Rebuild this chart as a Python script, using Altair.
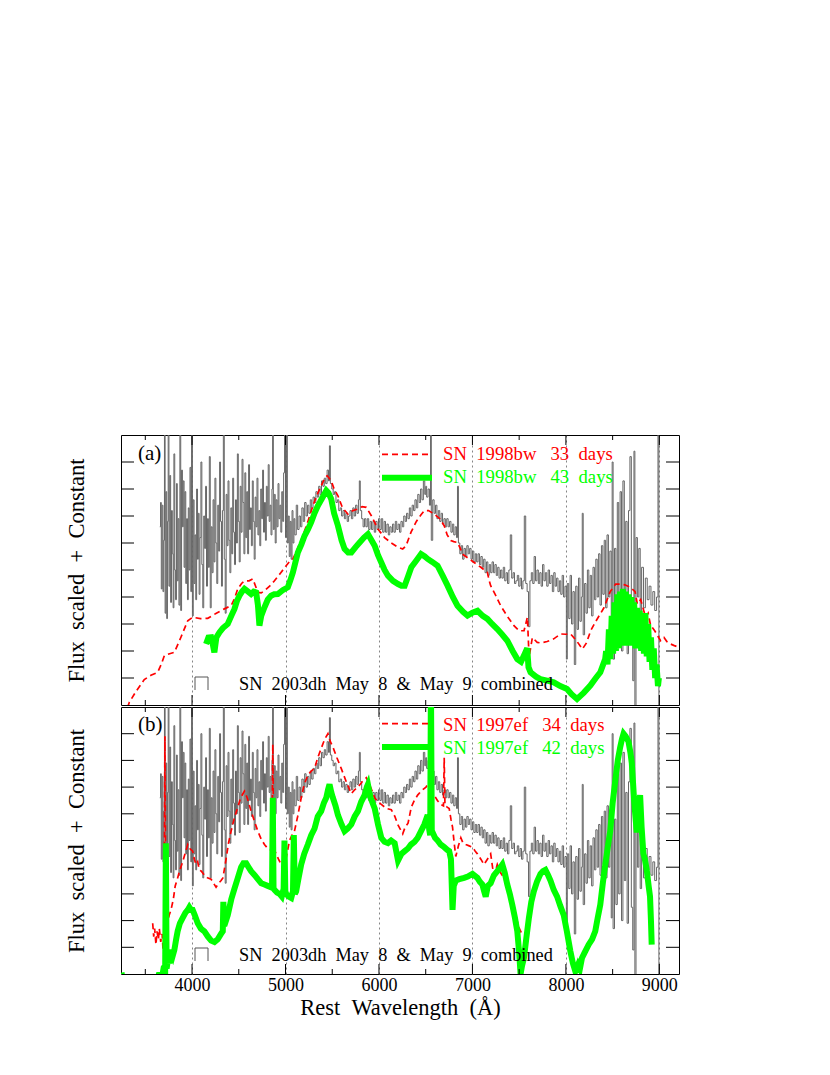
import altair as alt
import pandas as pd

FONT = "Liberation Serif"
XMIN, XMAX = 3240, 9210

# SN 2003dh (May 8 & 9 combined), same spectrum shown in both panels: (wavelength, flux)
gray = [
(3655,6.6),(3663,7.5),(3671,4.3),(3680,7.4),(3689,4.2),(3697,6.1),(3705,10.6),(3712,3.4),(3720,7.9),(3729,3.2),
(3737,6.8),(3745,10.6),(3753,4.4),(3762,8.5),(3771,3.8),(3780,7.2),(3789,5.6),(3798,3.6),(3806,9.3),(3815,5.0),
(3824,3.9),(3833,8.2),(3842,4.6),(3851,6.9),(3860,3.7),(3870,10.6),(3879,3.5),(3888,8.7),(3897,6.6),(3906,8.3),
(3915,5.1),(3924,7.9),(3933,4.5),(3942,6.9),(3951,3.9),(3960,7.3),(3969,5.0),(3978,8.8),(3987,4.2),(3995,10.6),
(4004,3.3),(4013,7.6),(4022,4.5),(4031,6.3),(4040,3.9),(4049,8.0),(4058,5.4),(4067,7.1),(4076,4.1),(4085,6.2),
(4095,9.0),(4105,5.2),(4115,3.6),(4125,7.0),(4135,5.8),(4145,8.1),(4155,4.4),(4165,6.9),(4175,5.1),(4185,9.2),
(4195,3.6),(4205,6.6),(4215,4.9),(4225,7.6),(4235,5.3),(4245,8.4),(4255,6.0),(4265,4.5),(4275,7.4),(4285,5.7),
(4295,9.0),(4305,6.8),(4315,4.4),(4325,7.2),(4335,10.6),(4345,5.4),(4355,3.4),(4365,7.8),(4375,5.9),(4385,8.3),
(4395,6.1),(4405,4.9),(4415,7.3),(4425,5.6),(4435,8.4),(4445,6.4),(4455,5.2),(4465,7.6),(4475,6.0),(4485,9.3),
(4495,6.8),(4505,5.3),(4515,8.1),(4525,6.4),(4535,9.1),(4545,7.5),(4555,5.6),(4565,8.6),(4575,6.2),(4585,7.9),
(4595,5.6),(4605,8.9),(4615,6.5),(4625,7.3),(4635,5.9),(4645,8.3),(4655,6.8),(4665,5.4),(4675,7.7),(4685,6.6),
(4695,8.4),(4705,6.3),(4715,7.2),(4725,5.9),(4735,8.0),(4745,6.9),(4755,8.7),(4765,6.4),(4775,7.5),(4785,6.1),
(4795,8.1),(4805,7.0),(4815,8.9),(4825,6.8),(4835,7.4),(4845,6.3),(4855,8.0),(4862,10.6),(4870,6.5),(4880,7.8),
(4890,6.0),(4900,7.6),(4910,6.6),(4920,8.2),(4930,6.9),(4940,7.4),(4950,6.4),(4960,7.9),(4970,6.8),(4980,8.6),
(4990,10.6),(5000,6.2),(5010,10.6),(5020,6.0),(5030,7.0),(5040,5.5),(5050,6.8),(5060,5.4),(5070,7.2),(5080,6.0),
(5090,6.9),(5100,6.3),(5115,7.4),(5130,6.5),(5145,7.0),(5160,6.6),(5175,7.3),(5190,6.8),(5205,7.5),(5220,7.0),
(5235,7.4),(5250,7.1),(5265,7.6),(5280,7.3),(5295,7.7),(5310,7.5),(5325,7.9),(5340,7.7),(5355,8.1),(5370,7.8),
(5385,8.3),(5400,8.1),(5415,8.4),(5430,8.2),(5445,8.7),(5460,8.3),(5470,9.6),(5480,8.2),(5495,8.0),(5510,7.8),
(5525,7.9),(5540,7.5),(5555,7.6),(5570,7.2),(5585,7.3),(5600,7.0),(5615,7.2),(5630,6.9),(5645,7.1),(5660,6.8),
(5675,7.0),(5690,7.2),(5705,6.9),(5720,7.3),(5735,7.0),(5750,7.4),(5765,7.1),(5780,7.6),(5790,8.3),(5800,7.2),
(5815,6.9),(5830,6.6),(5845,6.9),(5860,6.6),(5875,6.9),(5890,6.5),(5905,6.8),(5920,6.5),(5935,6.8),(5950,6.4),
(5965,6.8),(5980,6.5),(5995,6.9),(6010,6.5),(6025,6.9),(6040,6.4),(6055,6.8),(6070,6.4),(6085,6.7),(6100,6.3),
(6115,6.6),(6130,6.4),(6145,6.7),(6160,6.4),(6175,6.8),(6190,6.5),(6205,6.7),(6220,6.4),(6235,6.8),(6250,6.6),
(6265,7.0),(6280,6.8),(6295,7.1),(6310,6.9),(6325,7.3),(6340,7.0),(6355,7.4),(6370,7.2),(6385,7.6),(6400,7.3),
(6415,7.8),(6430,7.5),(6445,8.0),(6460,7.6),(6475,8.3),(6490,7.8),(6500,8.1),(6510,7.7),(6525,8.0),(6540,7.4),
(6552,10.6),(6560,6.1),(6575,7.6),(6590,7.1),(6605,7.4),(6620,6.9),(6635,7.2),(6650,6.8),(6665,7.1),(6680,6.7),
(6695,6.9),(6710,6.6),(6725,6.9),(6740,6.6),(6755,6.8),(6770,6.4),(6785,6.7),(6800,6.3),(6815,6.6),(6830,6.2),
(6840,8.1),(6850,6.0),(6865,5.6),(6880,5.9),(6895,5.4),(6910,5.8),(6925,5.5),(6940,5.9),(6955,5.6),(6970,5.8),
(6985,5.4),(7000,5.7),(7015,5.3),(7030,5.6),(7045,5.3),(7060,5.6),(7075,5.2),(7090,5.5),(7105,5.1),(7120,5.4),
(7135,4.9),(7150,5.3),(7165,4.8),(7180,5.2),(7195,4.9),(7210,5.3),(7225,4.9),(7240,5.2),(7255,4.8),(7270,5.1),
(7285,4.7),(7300,5.0),(7315,4.7),(7330,5.1),(7345,4.6),(7360,4.9),(7375,4.5),(7390,5.0),(7405,6.3),(7420,4.7),
(7435,4.9),(7450,4.5),(7465,4.6),(7480,4.8),(7495,4.4),(7510,4.7),(7525,4.3),(7540,4.6),(7555,7.0),(7570,4.5),
(7585,4.2),(7600,2.9),(7615,4.6),(7630,4.9),(7645,4.5),(7660,5.5),(7675,4.6),(7690,5.0),(7705,4.5),(7720,4.9),
(7735,4.4),(7750,5.2),(7765,4.6),(7780,4.9),(7795,4.4),(7810,5.0),(7825,4.5),(7840,4.8),(7855,4.2),(7870,4.9),
(7885,4.4),(7900,4.7),(7915,4.2),(7930,4.6),(7945,4.1),(7960,4.8),(7975,4.0),(7990,4.4),(8005,1.7),(8015,4.5),
(8030,3.2),(8045,4.8),(8060,3.0),(8075,4.2),(8090,1.5),(8105,4.4),(8120,2.8),(8135,4.7),(8150,3.1),(8165,4.0),
(8175,7.1),(8185,2.6),(8200,4.5),(8215,3.4),(8230,5.0),(8245,3.6),(8260,4.8),(8275,3.3),(8290,5.1),(8305,3.9),
(8320,5.4),(8335,4.0),(8350,5.6),(8365,3.7),(8380,5.9),(8395,4.1),(8410,6.1),(8425,3.6),(8440,6.3),(8455,4.0),
(8470,5.7),(8485,2.1),(8495,9.0),(8505,1.7),(8520,5.8),(8535,2.6),(8550,7.5),(8565,3.0),(8580,7.9),(8595,2.0),
(8610,8.3),(8625,3.5),(8640,6.8),(8655,1.9),(8670,7.2),(8685,9.2),(8700,2.5),(8715,0.9),(8728,9.4),(8738,-0.5),
(8750,6.2),(8765,4.0),(8780,5.8),(8795,3.2),(8810,5.1),(8830,3.6),(8850,4.7),(8870,3.9),(8890,4.4),(8910,3.7),
(8930,4.2),(8950,3.5),(8970,4.0),(8985,10.6),(8995,-0.5),(9000,-0.5),
]

# Panel (a): SN 1998bw 33 days (red dashed)
red_a = [
(3240,-0.8),(3329,0.1),(3400,0.5),(3489,0.94),(3560,1.1),(3632,1.21),(3670,1.5),(3704,1.83),(3760,1.9),(3811,1.95),
(3880,2.5),(3954,3.12),(4007,3.25),(4090,3.2),(4168,3.21),(4260,3.4),(4346,3.56),(4418,3.68),(4450,3.9),(4489,4.3),
(4530,4.5),(4561,4.6),(4610,4.6),(4650,4.67),(4680,4.4),(4704,4.17),(4740,4.15),(4775,4.23),(4830,4.4),(4882,4.6),
(4950,4.9),(5007,5.16),(5040,5.3),(5079,5.4),(5130,5.8),(5186,6.27),(5240,6.8),(5293,7.38),(5340,7.8),(5382,8.12),
(5420,8.4),(5446,8.49),(5489,8.31),(5520,8.0),(5561,7.75),(5610,7.3),(5668,7.07),(5720,7.2),(5775,7.26),(5820,7.35),
(5864,7.32),(5920,7.0),(5989,6.52),(6060,6.2),(6132,6.0),(6200,5.85),(6254,5.78),(6290,5.9),(6343,6.4),(6400,6.8),
(6450,7.05),(6485,7.2),(6530,7.2),(6592,7.07),(6650,6.9),(6698,6.64),(6730,6.3),(6769,6.09),(6800,6.05),(6840,6.02),
(6870,5.8),(6893,5.59),(6950,5.45),(7018,5.28),(7090,5.1),(7160,4.91),(7180,4.6),(7195,4.42),(7250,4.05),(7302,3.68),
(7370,3.3),(7444,2.94),(7500,2.75),(7552,2.75),(7588,3.25),(7606,1.77),(7641,2.5),(7693,2.32),(7730,2.3),(7799,2.35),
(7870,2.45),(7944,2.63),(8000,2.62),(8051,2.63),(8120,2.35),(8176,2.07),(8220,2.3),(8265,2.75),(8320,3.1),(8407,3.6),
(8474,4.2),(8532,4.48),(8581,4.48),(8630,4.45),(8687,4.36),(8740,4.2),(8764,3.74),(8800,3.9),(8853,3.25),(8880,3.4),
(8906,2.95),(8950,2.75),(9013,2.38),(9050,2.5),(9080,2.35),(9120,2.26),(9160,2.2),(9209,2.14),
]

# Panel (a): SN 1998bw 43 days (green)
green_a = [
(4150,2.26),(4175,2.5),(4204,2.51),(4225,2.2),(4239,1.95),(4260,2.5),(4293,2.69),(4330,2.85),(4382,3.0),(4420,3.3),
(4454,3.56),(4480,3.85),(4507,4.05),(4535,4.2),(4561,4.3),(4600,4.2),(4632,4.11),(4660,4.2),(4686,4.17),(4705,3.7),
(4721,2.94),(4740,3.3),(4775,3.62),(4810,3.9),(4846,4.05),(4880,4.1),(4918,4.11),(4970,4.25),(5025,4.36),(5050,4.6),
(5079,4.91),(5100,5.2),(5132,5.65),(5170,5.95),(5204,6.27),(5240,6.5),(5275,6.77),(5310,7.1),(5346,7.38),(5390,7.65),
(5436,7.94),(5460,7.85),(5489,7.63),(5520,7.1),(5561,6.64),(5600,6.1),(5632,5.78),(5670,5.65),(5704,5.65),(5750,5.85),
(5793,6.02),(5840,6.2),(5882,6.33),(5920,6.1),(5954,5.9),(5990,5.55),(6025,5.28),(6060,5.0),(6096,4.79),(6150,4.6),
(6204,4.48),(6240,4.42),(6275,4.42),(6310,4.75),(6346,5.1),(6400,5.35),(6450,5.59),(6490,5.5),(6521,5.41),(6570,5.3),
(6627,5.16),(6680,4.8),(6734,4.42),(6790,4.0),(6840,3.68),(6900,3.45),(6947,3.31),(7000,3.42),(7054,3.49),(7110,3.3),
(7160,3.19),(7210,3.0),(7266,2.81),(7320,2.6),(7373,2.38),(7430,2.0),(7480,1.7),(7520,1.6),(7560,1.9),(7586,2.1),
(7600,1.4),(7622,1.21),(7680,1.05),(7728,0.96),(7800,0.9),(7870,0.84),(7940,0.7),(8012,0.59),(8060,0.4),(8119,0.22),
(8190,0.45),(8261,0.72),(8320,1.0),(8368,1.21),(8420,1.7),(8430,2.0),(8445,1.5),(8460,2.8),(8475,1.7),(8490,3.3),
(8505,1.9),(8520,3.8),(8535,2.0),(8550,4.1),(8565,2.1),(8580,4.2),(8595,2.2),(8610,4.3),(8625,2.3),(8640,4.2),
(8655,2.2),(8670,4.1),(8685,2.3),(8700,4.0),(8715,2.2),(8730,3.8),(8745,2.1),(8760,3.6),(8775,2.2),(8790,3.5),
(8805,2.0),(8820,3.3),(8835,1.9),(8850,3.4),(8865,1.8),(8880,3.0),(8895,1.6),(8910,2.5),(8925,1.3),(8940,2.1),
(8955,1.0),(8970,1.5),(8985,0.7),(8995,1.0),
]

# Panel (b): SN 1997ef 34 days (red dashed)
red_b = [
(3579,1.9),(3590,1.4),(3600,1.7),(3614,1.1),(3625,1.6),(3640,1.3),(3650,1.7),(3665,1.2),(3680,1.5),(3690,0.9),
(3700,1.3),(3710,8.9),(3720,1.6),(3739,1.9),(3755,2.2),(3775,2.4),(3800,2.8),(3820,3.3),(3846,3.6),(3870,3.9),
(3900,4.2),(3925,4.5),(3954,4.85),(3975,4.7),(4007,4.6),(4025,4.3),(4043,4.1),(4060,4.2),(4079,3.9),(4100,3.85),
(4132,3.7),(4165,3.6),(4204,3.55),(4230,3.4),(4257,3.25),(4285,3.4),(4311,3.5),(4330,3.6),(4345,3.9),(4364,4.3),
(4390,4.9),(4418,5.35),(4450,5.8),(4489,6.25),(4520,6.6),(4561,6.85),(4590,6.6),(4632,6.1),(4670,5.7),(4704,5.35),
(4740,5.05),(4775,4.85),(4810,4.7),(4840,4.65),(4855,4.9),(4864,8.6),(4873,4.7),(4900,4.5),(4925,4.3),(4954,4.1),
(4975,4.0),(4989,4.05),(5010,4.4),(5043,5.0),(5070,5.2),(5096,5.35),(5130,5.9),(5168,6.6),(5200,7.1),(5239,7.45),
(5275,7.6),(5311,7.7),(5345,8.1),(5382,8.45),(5420,8.8),(5454,9.0),(5480,8.7),(5507,8.5),(5550,8.1),(5596,7.7),
(5650,7.2),(5704,6.75),(5740,6.9),(5775,7.0),(5820,7.2),(5864,7.35),(5910,7.0),(5954,6.6),(5990,6.45),(6025,6.35),
(6080,6.2),(6132,6.15),(6170,5.9),(6201,5.6),(6239,5.35),(6254,5.25),(6280,5.5),(6311,5.65),(6346,6.25),(6378,6.5),
(6414,6.7),(6450,6.85),(6503,7.0),(6538,7.2),(6548,7.0),(6556,11.0),(6565,6.9),(6591,6.7),(6625,6.5),(6663,6.35),
(6690,6.3),(6698,8.1),(6706,6.3),(6730,6.25),(6751,6.2),(6770,5.8),(6787,5.5),(6805,4.9),(6822,4.4),(6850,4.8),
(6876,5.1),(6900,4.9),(6929,4.85),(6965,4.8),(7000,4.75),(7030,4.6),(7053,4.5),(7090,4.3),(7124,4.1),(7160,4.3),
(7195,4.5),(7215,4.0),(7231,3.7),(7250,3.9),(7266,4.1),(7300,3.8),(7337,3.6),(7365,3.3),(7391,3.0),(7420,2.6),
(7444,2.4),(7470,2.1),(7497,1.75),(7515,1.6),(7533,1.5),
]

# Panel (b): SN 1997ef 42 days (green)
green_b = [
(3245,0.05),(3280,-0.6),(3600,-0.6),(3650,0.05),(3670,-0.3),(3700,0.3),(3712,-0.2),(3720,4.9),(3728,0.2),(3745,0.6),
(3757,0.4),(3775,0.9),(3795,0.7),(3811,0.9),(3830,1.3),(3846,1.6),(3870,1.9),(3900,2.1),(3930,2.3),(3954,2.4),
(3971,2.5),(3990,2.4),(4007,2.4),(4030,2.2),(4061,1.9),(4095,1.7),(4132,1.6),(4170,1.4),(4204,1.25),(4240,1.2),
(4275,1.3),(4310,1.5),(4329,1.6),(4335,2.7),(4345,1.8),(4382,2.2),(4420,2.8),(4454,3.2),(4490,3.6),(4525,4.0),
(4550,4.15),(4579,4.15),(4605,4.0),(4632,3.85),(4670,3.7),(4704,3.55),(4740,3.4),(4775,3.35),(4810,3.3),(4846,3.25),
(4856,3.3),(4864,6.6),(4872,3.2),(4882,3.15),(4910,3.05),(4936,3.0),(4960,2.9),(4980,3.2),(4989,5.0),(4998,3.1),
(5007,3.0),(5035,2.9),(5061,2.85),(5080,3.1),(5089,5.2),(5100,3.0),(5114,3.1),(5140,3.6),(5168,4.1),(5200,4.5),
(5239,4.85),(5275,5.2),(5311,5.45),(5345,5.9),(5382,6.1),(5410,6.4),(5436,6.6),(5455,6.9),(5471,7.1),(5490,6.8),
(5507,6.6),(5535,6.3),(5561,5.95),(5600,5.6),(5632,5.35),(5665,5.45),(5704,5.6),(5740,5.9),(5775,6.1),(5810,6.45),
(5846,6.7),(5870,7.0),(5882,7.1),(5910,6.6),(5954,6.2),(5990,5.6),(6025,5.1),(6060,4.95),(6096,4.9),(6130,5.0),
(6168,4.9),(6204,4.25),(6240,4.5),(6275,4.6),(6310,4.7),(6343,4.85),(6380,4.95),(6414,5.1),(6450,5.35),(6485,5.6),
(6521,5.95),(6538,5.4),(6548,5.2),(6556,11.0),(6565,5.3),(6574,5.3),(6600,5.1),(6627,5.0),(6660,4.85),(6698,4.75),
(6730,4.65),(6751,4.6),(6770,4.3),(6787,2.4),(6800,3.3),(6822,3.5),(6860,3.55),(6911,3.6),(6950,3.65),(7000,3.75),
(7053,3.6),(7080,3.45),(7106,3.35),(7125,3.1),(7142,2.9),(7165,3.3),(7195,3.4),(7230,3.7),(7266,3.85),(7300,4.0),
(7320,4.1),(7345,3.8),(7373,3.35),(7400,3.0),(7426,2.6),(7455,2.1),(7480,1.6),(7500,0.8),(7515,0.0),(7530,0.3),
(7551,0.6),(7575,1.3),(7604,2.1),(7630,2.7),(7657,3.1),(7690,3.45),(7728,3.75),(7755,3.85),(7781,3.9),(7810,3.7),
(7835,3.5),(7870,3.15),(7906,2.9),(7940,2.55),(7977,2.2),(8010,1.6),(8048,0.85),(8075,0.4),(8101,0.1),(8130,0.35),
(8150,0.2),(8172,0.6),(8200,0.8),(8243,1.1),(8280,1.3),(8314,1.6),(8340,2.1),(8368,2.6),(8395,3.4),(8421,4.1),
(8450,4.8),(8474,5.35),(8500,6.4),(8527,7.2),(8555,8.0),(8581,8.5),(8600,8.8),(8617,9.0),(8640,8.9),(8670,8.7),
(8690,8.3),(8705,7.9),(8730,6.5),(8758,5.3),(8775,6.2),(8794,6.7),(8810,5.5),(8829,4.5),(8845,4.3),(8865,3.9),
(8885,3.3),(8900,2.9),(8910,2.0),(8918,1.1),
]

x_major = [4000, 5000, 6000, 7000, 8000, 9000]
x_minor = [3500, 4500, 5500, 6500, 7500, 8500]
y_ticks = [1, 2, 3, 4, 5, 6, 7, 8, 9]

W = 558


def nb(s):
    return s.replace(" ", "\u00a0")


def df(pairs):
    return pd.DataFrame({"wl": [p[0] for p in pairs], "v": [p[1] for p in pairs]})


ONE = pd.DataFrame({"k": [0]})


def panel(tag, red, green, red_label, green_label, H, bottom, leg_y, txt_y, tag_y, bottom_y):
    xs = alt.Scale(domain=[XMIN, XMAX], nice=False, zero=False)
    ys = alt.Scale(domain=[0, 10], nice=False, zero=False)
    common = dict(values=x_major, grid=True, gridDash=[2, 3], gridColor="#666666",
                  gridWidth=0.8, ticks=False, domain=False)
    if bottom:
        xax = alt.Axis(format="d", labelFont=FONT, labelFontSize=18, labelColor="black",
                       labelPadding=2, title=nb("Rest  Wavelength  (Å)"), titleFont=FONT,
                       titleFontSize=22.5, titleFontWeight="normal", titleColor="black",
                       titlePadding=2, **common)
    else:
        xax = alt.Axis(labels=False, title=None, **common)
    yax = alt.Axis(title=nb("Flux  scaled  +  Constant"), labels=False, ticks=False,
                   domain=False, grid=False, titleFont=FONT, titleFontSize=22.5,
                   titleFontWeight="normal", titleColor="black", titlePadding=33)

    X = alt.X("wl:Q", scale=xs, axis=xax)
    Y = alt.Y("v:Q", scale=ys, axis=yax)

    layers = []
    layers.append(alt.Chart(df(gray)).mark_line(interpolate="step-after", color="#666666",
                                                strokeWidth=1, clip=True).encode(x=X, y=Y))
    layers.append(alt.Chart(df(red)).mark_line(color="#ff0000", strokeDash=[6, 4],
                                               strokeWidth=1.7, clip=True).encode(x=X, y=Y))
    layers.append(alt.Chart(df(green)).mark_line(color="#00ff00", strokeWidth=6,
                                                 clip=True).encode(x=X, y=Y))

    # box ticks (inward)
    for vals, ln in ((x_major, 10), (x_minor, 5)):
        tdf = pd.DataFrame({"wl": vals})
        layers.append(alt.Chart(tdf).mark_rule(color="black", strokeWidth=1).encode(
            x=X, y=alt.value(H), y2=alt.value(H - ln)))
        layers.append(alt.Chart(tdf).mark_rule(color="black", strokeWidth=1).encode(
            x=X, y=alt.value(0), y2=alt.value(ln)))
    ydf = pd.DataFrame({"v": y_ticks})
    layers.append(alt.Chart(ydf).mark_rule(color="black", strokeWidth=1).encode(
        y=Y, x=alt.value(0), x2=alt.value(13)))
    layers.append(alt.Chart(ydf).mark_rule(color="black", strokeWidth=1).encode(
        y=Y, x=alt.value(W - 13), x2=alt.value(W)))

    # legend
    layers.append(alt.Chart(ONE).mark_rule(color="#ff0000", strokeDash=[6, 4],
                                           strokeWidth=1.7).encode(
        x=alt.value(261), x2=alt.value(311), y=alt.value(leg_y[0])))
    layers.append(alt.Chart(ONE).mark_rule(color="#00ff00", strokeWidth=6).encode(
        x=alt.value(261), x2=alt.value(311), y=alt.value(leg_y[1])))
    layers.append(alt.Chart(ONE).mark_text(text=nb(red_label), font=FONT, fontSize=18.7,
                                           color="#ff0000", align="left",
                                           baseline="alphabetic").encode(
        x=alt.value(322), y=alt.value(txt_y[0])))
    layers.append(alt.Chart(ONE).mark_text(text=nb(green_label), font=FONT, fontSize=18.7,
                                           color="#00ff00", align="left",
                                           baseline="alphabetic").encode(
        x=alt.value(322), y=alt.value(txt_y[1])))
    layers.append(alt.Chart(ONE).mark_text(text=tag, font=FONT, fontSize=21, color="black",
                                           align="left", baseline="middle").encode(
        x=alt.value(17), y=alt.value(tag_y)))
    layers.append(alt.Chart(ONE).mark_text(
        text=nb("SN  2003dh  May  8  &  May  9  combined"), font=FONT, fontSize=18.3,
        color="black", align="left", baseline="alphabetic").encode(
        x=alt.value(118), y=alt.value(bottom_y)))
    # gray legend glyph (open step)
    gtop, gbot = bottom_y - 13, bottom_y
    layers.append(alt.Chart(ONE).mark_rule(color="#555555", strokeWidth=1).encode(
        x=alt.value(74), y=alt.value(gtop), y2=alt.value(gbot)))
    layers.append(alt.Chart(ONE).mark_rule(color="#555555", strokeWidth=1).encode(
        x=alt.value(87), y=alt.value(gtop), y2=alt.value(gbot)))
    layers.append(alt.Chart(ONE).mark_rule(color="#555555", strokeWidth=1).encode(
        x=alt.value(74), x2=alt.value(87), y=alt.value(gtop)))

    return alt.layer(*layers).properties(width=W, height=H)


pa = panel("(a)", red_a, green_a, "SN  1998bw   33  days", "SN  1998bw   43  days",
           270, False, (19.3, 42.7), (24.5, 48), 18.5, 255)
pb = panel("(b)", red_b, green_b, "SN  1997ef   34  days", "SN  1997ef   42  days",
           267, True, (16.7, 40), (23.5, 47), 17.5, 254)

chart = alt.vconcat(pa, pb, spacing=0).properties(
    padding={"left": 56, "top": 426, "right": 5, "bottom": 5}
).configure_view(stroke="black", strokeWidth=1)

chart.save("out.html", embed_options={"renderer": "svg", "actions": False})
